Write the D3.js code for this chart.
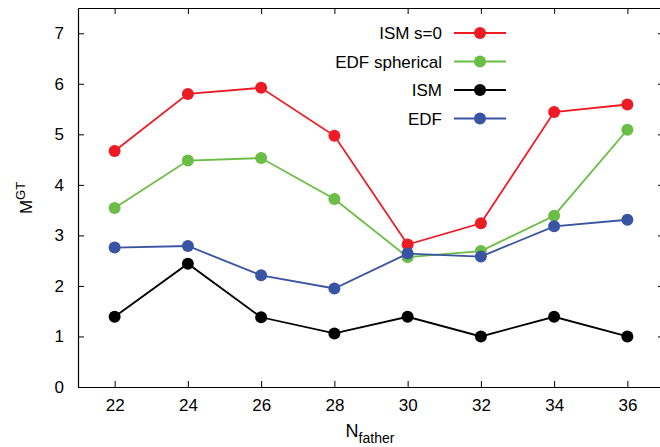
<!DOCTYPE html>
<html>
<head>
<meta charset="utf-8">
<script src="https://cdn.jsdelivr.net/npm/d3@7"></script>
<style>
  body { margin: 0; background: #fff; }
  text { font-family: "Liberation Sans", Arial, sans-serif; }
</style>
</head>
<body>
<svg width="660" height="447"></svg>
<script>
var nFather = [22, 24, 26, 28, 30, 32, 34, 36];
var ismS0 = [4.67, 5.80, 5.92, 4.97, 2.82, 3.24, 5.44, 5.59];
var edfSpherical = [3.54, 4.48, 4.53, 3.72, 2.57, 2.69, 3.39, 5.09];
var ism = [1.39, 2.44, 1.38, 1.06, 1.39, 1.00, 1.39, 1.00];
var edf = [2.76, 2.79, 2.21, 1.95, 2.64, 2.58, 3.18, 3.31];
var yTicks = [0, 1, 2, 3, 4, 5, 6, 7];

var series = [
    {name: "ISM s=0", values: ismS0, color: "#ed1c24"},
    {name: "EDF spherical", values: edfSpherical, color: "#6abd45"},
    {name: "ISM", values: ism, color: "#000000"},
    {name: "EDF", values: edf, color: "#3a54a4"}
];

var margin = {top: 8, left: 78, bottom: 387, right: 664};

var scX = d3.scaleLinear().domain([21, 37]).range([margin.left, margin.right]);
var scY = d3.scaleLinear().domain([0, 7.5]).range([margin.bottom, margin.top]);

var svg = d3.select("svg");

// ticks on all four sides, pointing inward
var g = svg.append("g").attr("id", "axes");
g.append("g").attr("transform", "translate(0," + margin.bottom + ")")
    .call(d3.axisBottom(scX).tickValues(nFather).tickSizeInner(-6).tickSizeOuter(0).tickPadding(12));
g.append("g").attr("transform", "translate(0," + margin.top + ")")
    .call(d3.axisTop(scX).tickValues(nFather).tickSizeInner(-6).tickSizeOuter(0).tickFormat(""));
g.append("g").attr("transform", "translate(" + margin.left + ",0)")
    .call(d3.axisLeft(scY).tickValues(yTicks).tickSizeInner(-6).tickSizeOuter(0).tickPadding(14));
g.append("g").attr("transform", "translate(" + margin.right + ",0)")
    .call(d3.axisRight(scY).tickValues(yTicks).tickSizeInner(-6).tickSizeOuter(0).tickFormat(""));
g.selectAll(".domain").attr("stroke", "#000").attr("stroke-width", 1.2);
g.selectAll(".tick line").attr("stroke", "#000").attr("stroke-width", 1);
g.selectAll(".tick text").attr("font-size", 17).attr("fill", "#000")
    .attr("font-family", "'Liberation Sans', Arial, sans-serif");

// lines and points
var lineMaker = d3.line()
    .x((d, i) => scX(nFather[i]))
    .y(d => scY(d));

series.forEach(function(s, k) {
    var sg = svg.append("g").attr("id", "s" + k);
    sg.append("path")
        .attr("fill", "none").attr("stroke", s.color).attr("stroke-width", 1.8)
        .attr("d", lineMaker(s.values));
    sg.selectAll("circle")
        .data(s.values).enter()
        .append("circle")
        .attr("r", 6).attr("fill", s.color)
        .attr("cx", (d, i) => scX(nFather[i]))
        .attr("cy", d => scY(d));
});

// legend
var legend = svg.append("g").attr("id", "legend");
series.forEach(function(s, k) {
    var y = 33 + k * 28.5;
    legend.append("text")
        .attr("x", 442).attr("y", y + 6)
        .attr("text-anchor", "end").attr("font-size", 17)
        .text(s.name);
    legend.append("line")
        .attr("x1", 454).attr("x2", 506).attr("y1", y).attr("y2", y)
        .attr("stroke", s.color).attr("stroke-width", 1.8);
    legend.append("circle")
        .attr("cx", 480).attr("cy", y).attr("r", 6).attr("fill", s.color);
});

// axis titles
var yl = svg.append("text")
    .attr("transform", "translate(32,198) rotate(-90)")
    .attr("text-anchor", "middle").attr("font-size", 17);
yl.append("tspan").text("M");
yl.append("tspan").attr("font-size", 13).attr("dy", -7).text("GT");

var xl = svg.append("text")
    .attr("x", 370).attr("y", 437)
    .attr("text-anchor", "middle").attr("font-size", 18);
xl.append("tspan").text("N");
xl.append("tspan").attr("font-size", 14).attr("dy", 6).text("father");
</script>
</body>
</html>
